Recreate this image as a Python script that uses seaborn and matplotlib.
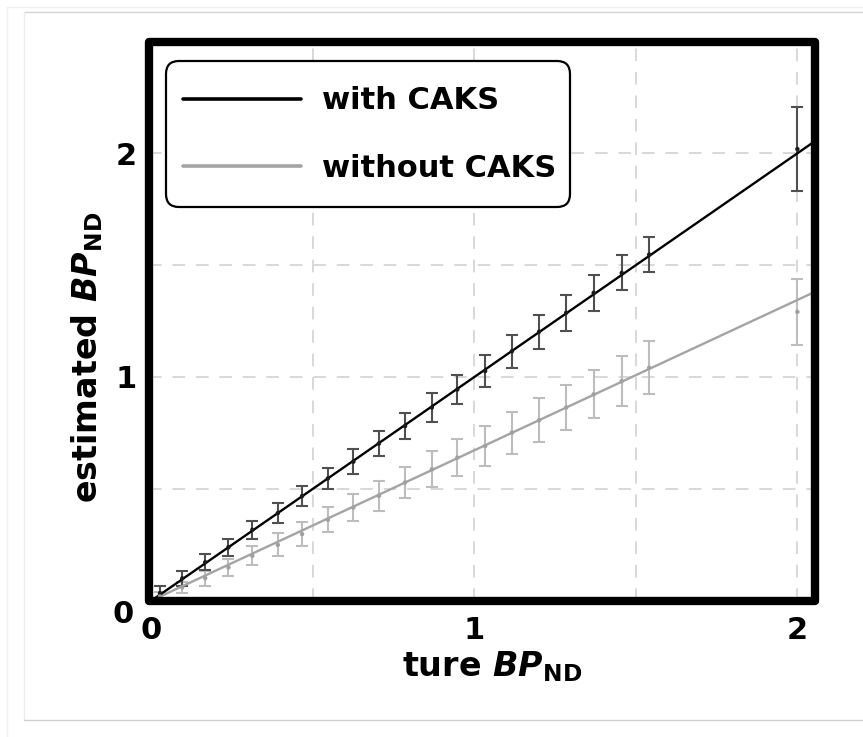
import matplotlib
matplotlib.use("Agg")
import numpy as np
import pandas as pd
import matplotlib.pyplot as plt
from matplotlib.patches import Rectangle, FancyBboxPatch
from matplotlib.lines import Line2D
from matplotlib.transforms import IdentityTransform, ScaledTranslation
import seaborn as sns

# True binding potential of the simulated regions
true_bp = [0.026, 0.095, 0.166, 0.238, 0.312, 0.391, 0.466, 0.546, 0.625, 0.704,
           0.785, 0.868, 0.947, 1.033, 1.116, 1.200, 1.284, 1.369, 1.456, 1.541, 2.0]

# Estimated BPND (mean and SD) with CAKS
est_with = [0.033, 0.099, 0.171, 0.238, 0.316, 0.391, 0.467, 0.546, 0.621, 0.702,
            0.780, 0.863, 0.944, 1.026, 1.115, 1.202, 1.287, 1.376, 1.465, 1.547, 2.019]
sd_with = [0.030, 0.034, 0.035, 0.037, 0.041, 0.045, 0.046, 0.048, 0.056, 0.056,
           0.057, 0.064, 0.065, 0.071, 0.074, 0.076, 0.081, 0.080, 0.078, 0.079, 0.188]

# Estimated BPND (mean and SD) without CAKS
est_without = [0.018, 0.059, 0.100, 0.148, 0.200, 0.249, 0.297, 0.361, 0.416, 0.468,
               0.528, 0.587, 0.639, 0.691, 0.751, 0.806, 0.863, 0.922, 0.981, 1.041, 1.291]
sd_without = [0.020, 0.025, 0.033, 0.039, 0.043, 0.051, 0.054, 0.056, 0.060, 0.067,
              0.068, 0.080, 0.082, 0.088, 0.094, 0.098, 0.101, 0.108, 0.111, 0.119, 0.147]

# Regression lines (slope, intercept)
series_names = ["with CAKS", "without CAKS"]
fit_slopes = [1.0, 0.672]
fit_intercepts = [0.0, 0.0]
fit_range = [-0.01, 2.06]

x_ticks = [0, 1, 2]
y_ticks = [0, 1, 2]
grid_minor = [0.5, 1.5]

line_colors = ["#000000", "#a4a4a4"]
bar_colors = ["#505050", "#bdbdbd"]
dot_colors = ["#1a1a1a", "#a0a0a0"]

sns.set_style("white")
plt.rcParams["font.family"] = ["DejaVu Sans"]
plt.rcParams["font.weight"] = "bold"
for key in ["text.color", "axes.labelcolor", "xtick.color", "ytick.color"]:
    plt.rcParams[key] = "black"
plt.rcParams["mathtext.fontset"] = "custom"
plt.rcParams["mathtext.rm"] = "DejaVu Sans:bold"
plt.rcParams["mathtext.bf"] = "DejaVu Sans:bold"
plt.rcParams["mathtext.it"] = "DejaVu Sans:italic:bold"
plt.rcParams["mathtext.bfit"] = "DejaVu Sans:italic:bold"

fig = plt.figure(figsize=(8.63, 7.37), dpi=100)
ax = fig.add_axes([149 / 863, 1 - 600.5 / 737, 665.5 / 863, 559 / 737])

points = pd.DataFrame({
    "true": true_bp * 2,
    "est": est_with + est_without,
    "sd": sd_with + sd_without,
    "group": [series_names[0]] * len(true_bp) + [series_names[1]] * len(true_bp),
})

fits = []
for name, s, b in zip(series_names, fit_slopes, fit_intercepts):
    for xv in fit_range:
        fits.append({"true": xv, "est": s * xv + b, "group": name})
fits = pd.DataFrame(fits)

# error bars first, then the fitted lines and the mean dots
for i, name in enumerate(series_names[::-1]):
    idx = series_names.index(name)
    d = points[points["group"] == name]
    ax.errorbar(d["true"], d["est"], yerr=d["sd"], fmt="none",
                ecolor=bar_colors[idx], elinewidth=1.5, capsize=4.5,
                capthick=1.5, zorder=2 + i)

sns.lineplot(data=fits, x="true", y="est", hue="group",
             palette=dict(zip(series_names, line_colors)),
             hue_order=series_names[::-1], linewidth=1.7, ax=ax,
             legend=False, zorder=4)
sns.scatterplot(data=points, x="true", y="est", hue="group",
                palette=dict(zip(series_names, dot_colors)),
                s=10, linewidth=0, ax=ax, legend=False, zorder=5)

ax.set_xlim(-0.008, 2.053)
ax.set_ylim(0, 2.5)
ax.set_xticks(x_ticks)
ax.set_yticks(y_ticks)
ax.set_xticks(grid_minor, minor=True)
ax.set_yticks(grid_minor + [2.5], minor=True)
ax.grid(which="both", linestyle=(0, (7, 6)), color="#d6d6d6", linewidth=1.3)
ax.set_axisbelow(True)
ax.tick_params(which="both", length=0)
ax.tick_params(axis="x", labelsize=22, pad=11)
ax.tick_params(axis="y", labelsize=22, pad=9)
for lab in ax.get_xticklabels() + ax.get_yticklabels():
    lab.set_fontweight("bold")
# the origin label on the y axis sits a little below the corner
y0_label = ax.get_yticklabels()[0]
y0_label.set_transform(y0_label.get_transform() +
                       ScaledTranslation(-2 / 72, -8 / 72, fig.dpi_scale_trans))
ax.set_xlabel("")
ax.set_ylabel("")

for sp in ax.spines.values():
    sp.set_visible(False)
ax.add_patch(Rectangle((0, 0), 1, 1, transform=ax.transAxes, fill=False,
                       linewidth=6, edgecolor="black", joinstyle="round",
                       clip_on=False, zorder=10))

ax.text(0.515, -0.119, r"ture $\mathbfit{BP}_{\mathbf{ND}}$", transform=ax.transAxes,
        ha="center", va="center", fontsize=24, fontweight="bold")
ax.text(-0.093, 0.434, r"estimated $\mathbfit{BP}_{\mathbf{ND}}$", transform=ax.transAxes,
        ha="center", va="center", rotation=90, fontsize=24, fontweight="bold")

# legend box with rounded corners, drawn in pixel space
legend_box = FancyBboxPatch((166, 737 - 207), 404, 146,
                            boxstyle="round,pad=0,rounding_size=13",
                            transform=IdentityTransform(), facecolor="white",
                            edgecolor="black", linewidth=1.6, clip_on=False,
                            zorder=11)
ax.add_artist(legend_box)

handles = [Line2D([], [], color=c, linewidth=2.6) for c in line_colors]
leg = ax.legend(handles, series_names, loc="center left",
                bbox_to_anchor=(0.0511, 0.8336), borderaxespad=0,
                prop={"size": 22, "weight": "bold"}, handlelength=3.85,
                handletextpad=0.70, labelspacing=1.25, borderpad=0,
                frameon=False)
leg.set_zorder(12)

# thin page border lines
for xs, ys, c in [([24 / 863, 1], [1 - 12 / 737] * 2, "#d4d4d4"),
                  ([24 / 863] * 2, [1 - 12 / 737, 1 - 720 / 737], "#ececec"),
                  ([24 / 863, 1], [1 - 720 / 737] * 2, "#cfcfcf"),
                  ([7 / 863, 1], [1 - 7 / 737] * 2, "#f0f0f0"),
                  ([7 / 863] * 2, [1 - 7 / 737, 0], "#f0f0f0")]:
    fig.add_artist(Line2D(xs, ys, transform=fig.transFigure, color=c, linewidth=1))

fig.savefig("out.png", dpi=100)
